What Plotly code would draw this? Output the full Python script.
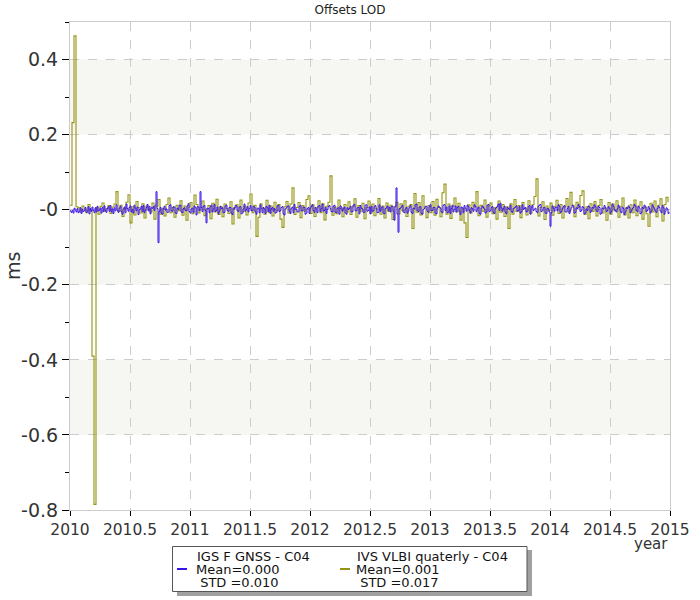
import numpy as np
import plotly.graph_objects as go

# ---- data (values in 0.001 ms) ----
START_YEAR = 2010.0
GNSS_STEP_YEAR = 1 / 120
VLBI_STEP_YEAR = 1 / 60

gnss_us = [
    -3, -7, -2, -9, 4, -1, -6, 3, -8, -4, 5, -10, 1, -5, -2, 6, -7, -3, 8, -11,
    3, -4, 7, -2, -8, 5, -6, 9, -3, -1, 4, -9, 6, -5, 10, -2, -7, 3, 8, -4,
    11, -6, 2, -10, 5, -3, 13, -1, -7, 4, 9, -5, -12, 2, 7, -8, 15, 3, -4, 6,
    10, -6, 1, -9, 12, 4, -3, 7, -13, 0, 2, 9, -5, 11, -8, -2, 6, 14, -3, 9,
    -11, 5, 4, 8, -2, 12, 48, 3, -88, -4, 6, -9, -12, 3, 9, -1, 2, -7, -6, 11,
    13, -3, -4, 8, 7, -9, -10, 4, 1, 11, 12, -6, -8, 3, 5, -2, -3, 10, 16, -5,
    -9, 2, 4, -7, 10, 5, -14, 8, 7, -3, 48, 6, -5, 9, 11, -2, -35, 4, 3, -8,
    8, 12, -6, 2, 14, -5, -2, 7, -11, -4, 9, 3, 5, -8, -7, 10, 12, -2, -4, 6,
    6, -9, -13, 4, 2, 11, 10, -3, -5, 7, 8, -11, -9, 2, 15, -4, 1, 8, -6, 3,
    11, -2, -3, 9, 7, -5, -12, 4, 4, -8, 13, 2, -8, 6, 2, -10, 9, 5, -5, 12,
    -10, 3, 6, -4, 3, -9, -7, 10, 12, -5, -2, 6, 8, -11, -14, 2, 5, 9, 10, -4,
    -10, 4, 7, -8, 14, 1, 1, -6, -6, 9, 11, -3, -3, 7, 6, -12, -9, 3, 6, -10,
    4, 9, 13, -2, -7, 6, 2, -8, 9, 11, -5, 3, 15, -4, -2, 6, -10, 1, 8, 11,
    3, -5, -6, 9, 12, -7, -8, 4, 5, -12, 10, 7, -4, 2, 7, -9, -12, 5, 1, 3,
    9, -6, -5, 12, 14, -3, -3, 5, 6, -11, 11, 4, 2, -7, -7, 12, 13, -4, -2, 7,
    -11, 9, -4, -3, 8, 11, 2, -8, -7, 13, -4, 5, 8, -9, -11, 3, 5, 10, -2, 6,
    -6, 8, 9, -4, -28, 10, 58, -12, -60, 3, 4, 7, 12, -6, -8, 2, 6, -9, -3, 5,
    11, -7, -10, 4, 2, 13, 15, -3, -5, 7, 8, -10, -12, 1, 3, 9, 9, -4, -7, 8,
    13, -3, -2, 6, 6, -9, -11, 4, 10, 7, 4, -6, -8, 12, 14, -2, 7, -8, -6, 10,
    -10, 3, 12, -6, 1, 10, -6, 6, 9, -4, -13, 7, 5, -8, 11, 4, -4, 12, 8, -3,
    -9, 5, 3, -4, 13, 9, -5, 2, 7, -10, -12, 4, 10, 6, 2, -9, -6, 12, 14, -5,
    -3, 6, 8, -7, -10, 3, 6, 9, 15, -2, 17, 5, -4, 3, 9, -7, -11, 6, 3, 1,
    12, -5, -7, 3, 5, 7, 10, -4, -2, 8, -9, -6, 13, 1, 4, 6, -6, -4, 8, 11,
    -12, 5, 11, -2, 1, 4, -5, -8, 9, 12, 14, -5, -3, 5, 6, -9, -10, 4, 2, -6,
    -44, -8, 10, 4, -4, 6, 7, -3, 13, 9, -8, -5, 3, 8, 11, -6, -6, 3, 9, -10,
    -2, 5, 12, 8, -9, -7, 5, 3, 14, 9, -5, -2, 8, 6, -11, -9, 2, -2, 10, 7,
    -7, -3, 6, 4, 13, 8, -3, -5, 9, 6, -12, -9, 4, 2, 11, 6, -5, -2, 8, 4,
    -10, -5, 15, 9, 1, -3, -6, 2, 12, 6, -4, -8, 7, 3, -13, -6, 5, 3, 10, 6,
    -8, -3, 3, 6, 14, 10, -2, -5, 9, 5, -11, -8, 6, 3, 12, 8, -5, -2, 8, 3,
    -9, -4, 13, 7, 2, -4, -7, 3, 10, 6, -3, -8, 11, 5, -12, -4, 5, 2, -10, -6,
]

vlbi_us = [
    12, 232, 463, 8, 5, -6, 10, 2, -8, 14, -3, -390, -785, 6, -12, 9, 18, -4, 3, 11,
    -10, 7, 15, 48, -5, 12, -18, 3, 20, 40, -35, 8, -14, 22, 5, -9, 16, -22, 10, 2,
    -6, 18, -25, 9, 27, -12, 4, -17, 14, 31, -8, 6, -20, 12, -3, 24, -15, 10, -28, 7,
    19, -11, 39, 14, -9, 5, 23, -16, 2, 11, -24, 17, -6, 28, -13, 8, -19, 15, 3, -10,
    21, -38, 6, 13, -22, 26, -5, 9, -14, 18, 42, -8, 12, -71, -20, 16, 4, -12, 25, -7,
    10, -17, 20, -3, 14, -25, -47, 8, 22, -9, 15, 58, -13, 6, 19, -21, 11, -4, 27, 37,
    -10, 13, -18, 5, 24, -8, 16, -27, 9, 20, 90, -15, 7, -11, 26, 3, -19, 14, -6, 21,
    -13, 8, 29, -20, 11, -4, 17, -24, 6, 23, -9, 15, -16, 4, 30, -12, 10, -22, 18, -5,
    12, -26, 7, 20, -11, 16, -3, 24, -18, 9, 14, -50, 43, -7, 19, -14, 37, 5, -21, 11,
    -8, 22, -15, 28, 6, -19, 45, 68, -12, 15, -23, 9, 31, -6, 17, -28, 4, -35, -74, 13,
    -9, 20, 7, 48, -16, 12, -4, 26, -20, 10, 18, -11, 5, -25, 23, -7, 14, -18, 8, -50,
    16, -12, 27, -5, 11, -21, 19, 3, -14, 24, -9, 13, 35, 82, -17, 6, 21, -26, 10, -3,
    18, -15, 9, 25, -10, 14, -22, 7, 30, -6, 46, 12, -19, 20, 5, 38, 50, -13, 8, -24,
    16, -5, 22, -17, 11, 27, -9, 4, -28, 19, -12, 15, -3, 24, -20, 9, 31, -14, 6, -22,
    13, -8, 26, -16, 10, 21, -25, 7, -11, -44, 17, -6, 23, -19, 12, 29, -30, 14, 33, 20,
]

series_names = ["IGS F GNSS - C04", "IVS VLBI quaterly - C04"]
series_mean = ["0.000", "0.001"]
series_std = ["0.010", "0.017"]
series_colors = ["#3a12ee", "#949412"]

y_tickvals = [-0.8, -0.6, -0.4, -0.2, 0.0, 0.2, 0.4]
y_ticktext = ["-0.8", "-0.6", "-0.4", "-0.2", "-0", "0.2", "0.4"]
x_tickvals = [2010, 2010.5, 2011, 2011.5, 2012, 2012.5, 2013, 2013.5, 2014, 2014.5, 2015]
x_ticktext = ["2010", "2010.5", "2011", "2011.5", "2012", "2012.5", "2013", "2013.5", "2014", "2014.5", "2015"]
band_ranges = [(0.2, 0.4), (-0.2, 0.0), (-0.6, -0.4)]

# ---- figure ----
FONT = "DejaVu Sans"
W, H = 700, 600
L, R, T, B = 70, 30, 22, 90
pw, ph = W - L - R, H - T - B


def px(sx):
    """pixel x -> paper x"""
    return (sx - L) / pw


def py(sy):
    """pixel y -> paper y"""
    return (H - B - sy) / ph


fig = go.Figure()

x_gnss = START_YEAR + np.arange(len(gnss_us)) * GNSS_STEP_YEAR
x_vlbi = START_YEAR + np.arange(len(vlbi_us)) * VLBI_STEP_YEAR
gnss = np.array(gnss_us) / 1000.0
vlbi = np.array(vlbi_us) / 1000.0

fig.add_trace(go.Scatter(x=x_vlbi, y=vlbi, mode="lines", line_shape="hv",
                         line=dict(color=series_colors[1], width=1.1),
                         name=series_names[1], showlegend=False))
fig.add_trace(go.Scatter(x=x_gnss, y=gnss, mode="lines", line_shape="hv",
                         line=dict(color=series_colors[0], width=1),
                         name=series_names[0], showlegend=False))

shapes = []
for y0, y1 in band_ranges:
    shapes.append(dict(type="rect", xref="paper", x0=0, x1=1, yref="y", y0=y0, y1=y1,
                       fillcolor="#f6f6f2", line=dict(width=0), layer="below"))

# legend frame with drop shadow
shapes.append(dict(type="rect", xref="paper", yref="paper",
                   x0=px(177), x1=px(532), y0=py(550), y1=py(596),
                   fillcolor="#a0a0a0", line=dict(width=0), layer="above"))
shapes.append(dict(type="rect", xref="paper", yref="paper",
                   x0=px(172.5), x1=px(527), y0=py(546.5), y1=py(591.5),
                   fillcolor="white", line=dict(color="#555555", width=1), layer="above"))

annotations = [
    dict(text="year", xref="paper", yref="paper", x=px(670), y=py(544),
         xanchor="right", yanchor="middle", showarrow=False,
         font=dict(family=FONT, size=15, color="#333333")),
    dict(text="ms", xref="paper", yref="paper", x=px(13), y=py(266),
         xanchor="center", yanchor="middle", textangle=-90, showarrow=False,
         font=dict(family=FONT, size=19, color="#333333")),
]

# legend entries (symbol + three text lines each)
legend_sym_x = [177, 340]
legend_txt_x = [195, 355]
legend_rows_y = [556, 569, 582]
for i in range(2):
    shapes.append(dict(type="line", xref="paper", yref="paper",
                       x0=px(legend_sym_x[i]), x1=px(legend_sym_x[i] + 10),
                       y0=py(legend_rows_y[1]), y1=py(legend_rows_y[1]),
                       line=dict(color=series_colors[i], width=2), layer="above"))
    lines = [series_names[i], f"Mean={series_mean[i]}",
             f"\u00a0STD\u00a0={series_std[i]}"]
    for j, txt in enumerate(lines):
        annotations.append(dict(text=txt, xref="paper", yref="paper",
                                x=px(legend_txt_x[i] + (1 if j == 0 else 0)),
                                y=py(legend_rows_y[j]),
                                xanchor="left", yanchor="middle", showarrow=False,
                                borderpad=0,
                                font=dict(family=FONT, size=13, color="#111111")))

fig.update_layout(
    width=W, height=H,
    margin=dict(l=L, r=R, t=T, b=B, autoexpand=False),
    paper_bgcolor="white", plot_bgcolor="white",
    font=dict(family=FONT, color="#333333"),
    title=dict(text="Offsets LOD", x=0.5, xref="container", xanchor="center",
               y=1 - 10 / H, yref="container", yanchor="middle",
               font=dict(family=FONT, size=12, color="#222222")),
    shapes=shapes,
    annotations=annotations,
    showlegend=False,
)

fig.update_xaxes(range=[2010, 2015], tickvals=x_tickvals, ticktext=x_ticktext,
                 tickfont=dict(family=FONT, size=15.5, color="#333333"),
                 ticks="outside", ticklen=5, tickcolor="#000000",
                 showline=True, linecolor="#cccccc", linewidth=1, mirror=True,
                 showgrid=True, gridcolor="#cccccc", griddash="dash", gridwidth=1,
                 zeroline=False, automargin=False)
fig.update_yaxes(range=[-0.8, 0.5], tickvals=y_tickvals, ticktext=y_ticktext,
                 tickfont=dict(family=FONT, size=19, color="#333333"),
                 ticks="outside", ticklen=7, tickcolor="#000000",
                 minor=dict(dtick=0.1, tick0=0, ticks="outside", ticklen=4,
                            tickcolor="#000000", showgrid=False),
                 showline=True, linecolor="#cccccc", linewidth=1, mirror=True,
                 showgrid=True, gridcolor="#cccccc", griddash="dash", gridwidth=1,
                 zeroline=False, automargin=False)

# remove the browser's default page margin so the figure sits at the window corner
fig.write_html("out.html", config={"displayModeBar": False},
               post_script="document.body.style.margin='0';")
